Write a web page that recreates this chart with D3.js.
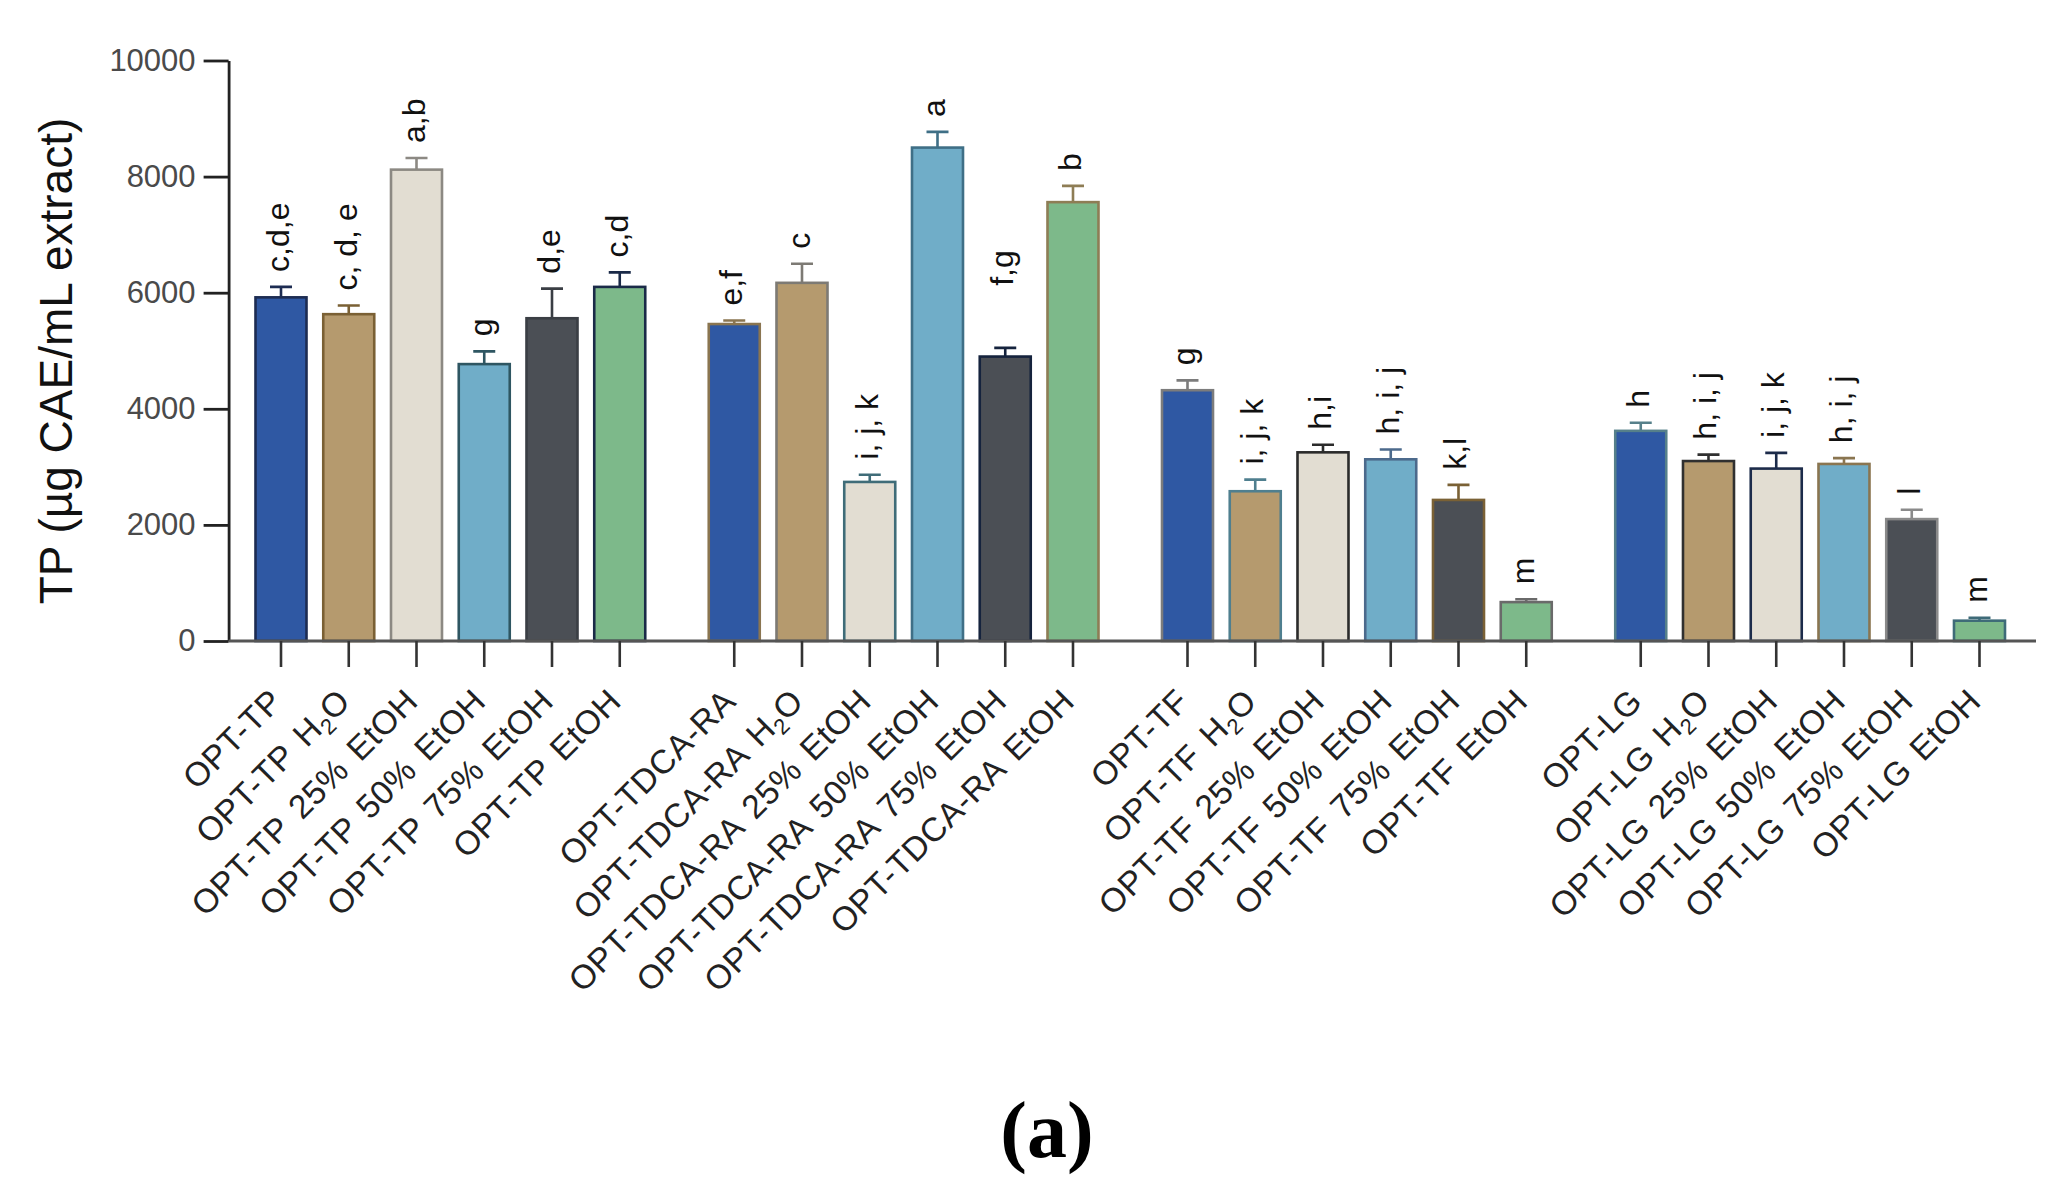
<!DOCTYPE html>
<html>
<head>
<meta charset="utf-8">
<script src="https://cdn.jsdelivr.net/npm/d3@7"></script>
<style>
  html, body { margin: 0; padding: 0; background: #fff; }
  svg { display: block; }
</style>
</head>
<body>
<svg id="chart" width="2057" height="1194"></svg>
<script>
// ---------------- data ----------------
const groups = ["OPT-TP", "OPT-TDCA-RA", "OPT-TF", "OPT-LG"];
const solvents = ["", "H2O", "25% EtOH", "50% EtOH", "75% EtOH", "EtOH"];
const categories = groups.flatMap(g => solvents.map(s => s ? g + " " + s : g));

const values = [
  5920, 5630, 8120, 4770, 5560, 6100,
  5460, 6170, 2740, 8500, 4900, 7560,
  4320, 2580, 3250, 3130, 2430, 670,
  3620, 3100, 2970, 3050, 2100, 350
];
const errors = [
  180, 150, 200, 220, 510, 250,
  60, 330, 125, 270, 150, 280,
  170, 200, 130, 170, 260, 50,
  140, 110, 270, 100, 160, 50
];
const letters = [
  "c,d,e", "c, d, e", "a,b", "g", "d,e", "c,d",
  "e,f", "c", "i, j, k", "a", "f,g", "b",
  "g", "i, j, k", "h,i", "h, i, j", "k,l", "m",
  "h", "h, i, j", "i, j, k", "h, i, j", "l", "m"
];
const yTicks = [0, 2000, 4000, 6000, 8000, 10000];
const yLabel = "TP (µg CAE/mL extract)";
const panelLabel = "(a)";

// ---------------- style ----------------
const fills = ["#2f58a3", "#b59a6e", "#e2ddd2", "#70adc8", "#4b4f55", "#7db98a"];
const strokes = [
  "#1d2c52", "#7a6034", "#8c8983", "#2e5662", "#3a3e44", "#1a2a48",
  "#8a7550", "#7d7a74", "#3f6c78", "#3f6f86", "#15233d", "#8e7d55",
  "#7c7c7c", "#4f7f8f", "#2b2b2b", "#4c6a8c", "#7a6135", "#6a6a6a",
  "#56808a", "#303030", "#1c2b4a", "#8a7550", "#8a8a8a", "#3e6b78"
];
const labelGap = 15;
const labelGapOverride = { 10: 62 };
const groupStride = 6.69;   // slots per group incl. gap

// ---------------- layout ----------------
const svg = d3.select("#chart");
const font = "'Liberation Sans', Arial, Helvetica, sans-serif";

const y = d3.scaleLinear().domain([0, 10000]).range([641, 60.5]);
const slotOf = i => Math.floor(i / 6) * groupStride + (i % 6);
const x = d3.scaleLinear().domain([0, 1]).range([281, 281 + 67.75]);
const barW = 51;
const axisX = 228.6;
const axisRight = 2036;

// y axis
const yAxis = d3.axisLeft(y).tickValues(yTicks).tickFormat(d3.format("d"))
  .tickSize(25).tickSizeOuter(0).tickPadding(8);
const gy = svg.append("g").attr("transform", `translate(${axisX},0)`).call(yAxis);
gy.select(".domain").attr("stroke", "#222").attr("stroke-width", 2.8);
gy.selectAll(".tick line").attr("stroke", "#222").attr("stroke-width", 2.8);
gy.selectAll(".tick text").attr("fill", "#4a4a4a").style("font-family", font).style("font-size", "31px");

// bars
const data = values.map((v, i) => ({ i, v, e: errors[i], name: categories[i], letter: letters[i] }));

const gBars = svg.append("g");
gBars.selectAll("rect").data(data).join("rect")
  .attr("x", d => x(slotOf(d.i)) - barW / 2)
  .attr("width", barW)
  .attr("y", d => y(d.v))
  .attr("height", d => y(0) - y(d.v))
  .attr("fill", d => fills[d.i % 6])
  .attr("stroke", d => strokes[d.i])
  .attr("stroke-width", 2.6);

// error bars
const gErr = svg.append("g").attr("fill", "none").attr("stroke-width", 2.6);
gErr.selectAll("path").data(data).join("path")
  .attr("stroke", d => strokes[d.i])
  .attr("d", d => {
    const cx = x(slotOf(d.i));
    const y1 = y(d.v), y2 = y(d.v + d.e);
    return `M${cx},${y1}V${y2}M${cx - 11},${y2}H${cx + 11}`;
  });

// x axis line and ticks
svg.append("line").attr("x1", axisX).attr("x2", axisRight).attr("y1", y(0)).attr("y2", y(0))
  .attr("stroke", "#555").attr("stroke-width", 3);
svg.append("g").selectAll("line").data(data).join("line")
  .attr("x1", d => x(slotOf(d.i))).attr("x2", d => x(slotOf(d.i)))
  .attr("y1", y(0)).attr("y2", y(0) + 26)
  .attr("stroke", "#333").attr("stroke-width", 2.6);

// letters
svg.append("g").selectAll("text").data(data).join("text")
  .attr("transform", d => {
    const gap = labelGapOverride[d.i] !== undefined ? labelGapOverride[d.i] : labelGap;
    return `translate(${x(slotOf(d.i))},${y(d.v + d.e) - gap}) rotate(-90)`;
  })
  .attr("dy", "0.25em")
  .attr("text-anchor", "start")
  .attr("fill", "#111")
  .style("font-family", font).style("font-size", "32px")
  .text(d => d.letter);

// x tick labels (with H2O subscript)
const xl = svg.append("g").selectAll("text").data(data).join("text")
  .attr("transform", d => `translate(${x(slotOf(d.i)) - 5},695) rotate(-45)`)
  .attr("dy", "0.35em")
  .attr("text-anchor", "end")
  .attr("fill", "#222")
  .style("font-family", font).style("font-size", "33.5px")
  .style("letter-spacing", "0.5px").style("word-spacing", "4px");
xl.each(function(d) {
  const t = d3.select(this);
  const parts = d.name.split("H2O");
  if (parts.length === 2) {
    t.append("tspan").text(parts[0] + "H");
    t.append("tspan").text("2").style("font-size", "22px").attr("dy", 7);
    t.append("tspan").text("O").attr("dy", -7);
  } else {
    t.text(d.name);
  }
});

// y axis title
svg.append("text")
  .attr("transform", `translate(72,361) rotate(-90)`)
  .attr("text-anchor", "middle")
  .attr("fill", "#111")
  .style("font-family", font).style("font-size", "46px")
  .text(yLabel);

// panel label
svg.append("text")
  .attr("x", 1047).attr("y", 1157)
  .attr("text-anchor", "middle")
  .attr("fill", "#000")
  .style("font-family", "'Liberation Serif', 'Times New Roman', serif")
  .style("font-weight", "bold")
  .style("font-size", "80px")
  .text(panelLabel);
</script>
</body>
</html>
